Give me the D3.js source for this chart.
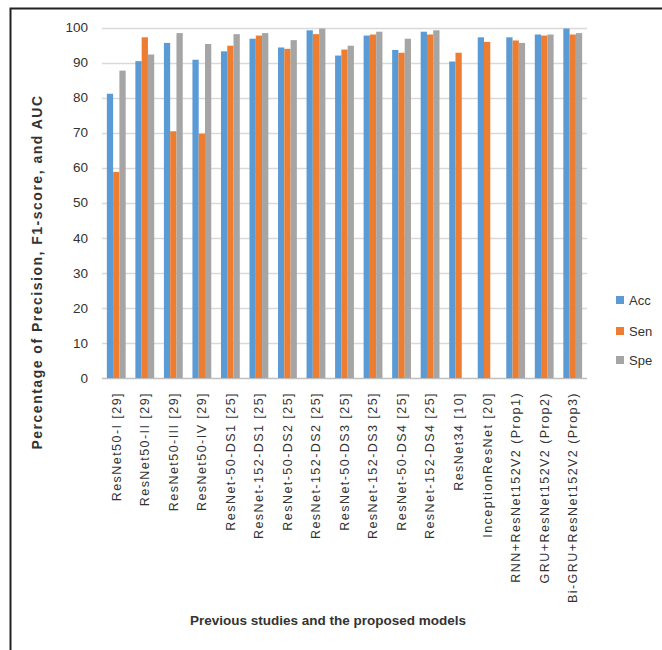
<!DOCTYPE html>
<html><head><meta charset="utf-8">
<script src="https://cdn.jsdelivr.net/npm/d3@7"></script>
<style>body{margin:0;background:#fff}svg{display:block}</style>
</head><body>
<script>
const categories = ["ResNet50-I [29]","ResNet50-II [29]","ResNet50-III [29]","ResNet50-IV [29]","ResNet-50-DS1 [25]","ResNet-152-DS1 [25]","ResNet-50-DS2 [25]","ResNet-152-DS2 [25]","ResNet-50-DS3 [25]","ResNet-152-DS3 [25]","ResNet-50-DS4 [25]","ResNet-152-DS4 [25]","ResNet34 [10]","InceptionResNet [20]","RNN+ResNet152V2 (Prop1)","GRU+ResNet152V2 (Prop2)","Bi-GRU+ResNet152V2 (Prop3)"];
const seriesNames = ["Acc","Sen","Spe"];
const acc = [81.1,90.4,95.6,90.8,93.2,96.8,94.3,99.2,92.0,97.7,93.6,98.8,90.3,97.2,97.2,98.0,99.7];
const sen = [58.8,97.2,70.4,69.7,94.8,97.7,93.9,98.1,93.7,98.0,92.8,98.0,92.8,95.9,96.3,97.7,98.0];
const spe = [87.7,92.3,98.4,95.3,98.1,98.4,96.4,99.7,94.8,98.8,96.8,99.2,null,null,95.6,98.0,98.4];
const yTicks = [0,10,20,30,40,50,60,70,80,90,100];
const colors = ["#5B9BD5","#ED7D31","#A5A5A5"];
const yTitle = "Percentage of Precision, F1-score, and AUC";
const xTitle = "Previous studies and the proposed models";

(function(){
const W = 662, H = 650;
const svg = d3.select("body").append("svg").attr("width", W).attr("height", H);
const font = "'Liberation Sans', Arial, sans-serif";
const textColor = "#333333";

const pLeft = 102, pRight = 587, pTop = 27.5, pBottom = 378;
const x0 = d3.scaleBand().domain(categories).range([pLeft, pRight]).paddingInner(0.34).paddingOuter(0.17);
const x1 = d3.scaleBand().domain(seriesNames).range([0, x0.bandwidth()]);
const y = d3.scaleLinear().domain([0, 100]).range([pBottom, pTop]);

// gridlines
svg.append("g").selectAll("line").data(yTicks).join("line")
  .attr("x1", pLeft).attr("x2", pRight)
  .attr("y1", d => Math.round(y(d)) + 0.5).attr("y2", d => Math.round(y(d)) + 0.5)
  .attr("stroke", d => d === 0 ? "#bfbfbf" : "#d9d9d9").attr("stroke-width", 1.5);

// y tick labels
svg.append("g").selectAll("text").data(yTicks).join("text")
  .attr("x", 88).attr("y", d => y(d)).attr("dy", "0.35em")
  .attr("text-anchor", "end").attr("font-family", font).attr("font-size", 13.5)
  .attr("fill", textColor).text(d => d);

// bars
const data = [acc, sen, spe];
const g = svg.append("g");
categories.forEach((c, i) => {
  seriesNames.forEach((s, j) => {
    const v = data[j][i];
    if (v == null) return;
    g.append("rect")
      .attr("x", x0(c) + x1(s)).attr("width", x1.bandwidth())
      .attr("y", y(v)).attr("height", y(0) - y(v))
      .attr("fill", colors[j]);
  });
});

// x labels
svg.append("g").selectAll("text").data(categories).join("text")
  .attr("transform", d => `translate(${x0(d) + x0.bandwidth()/2},392) rotate(-90)`)
  .attr("dy", "0.35em").attr("text-anchor", "end")
  .attr("font-family", font).attr("font-size", 12.5).attr("letter-spacing", 1.45)
  .attr("fill", textColor).text(d => d);

// axis titles
svg.append("text")
  .attr("transform", "translate(41.5,272) rotate(-90)")
  .attr("text-anchor", "middle").attr("font-family", font).attr("font-size", 14)
  .attr("letter-spacing", 1.5)
  .attr("font-weight", "bold").attr("fill", textColor).text(yTitle);
svg.append("text")
  .attr("x", 328).attr("y", 625).attr("text-anchor", "middle")
  .attr("font-family", font).attr("font-size", 13.5)
  .attr("font-weight", "bold").attr("fill", textColor).text(xTitle);

// legend
const legY = [300, 331, 360];
const leg = svg.append("g");
seriesNames.forEach((s, j) => {
  leg.append("rect").attr("x", 616).attr("y", legY[j] - 4).attr("width", 8).attr("height", 8).attr("fill", colors[j]);
  leg.append("text").attr("x", 629).attr("y", legY[j]).attr("dy", "0.35em")
    .attr("font-family", font).attr("font-size", 13).attr("fill", textColor).text(s);
});

// border
svg.append("path").attr("d", `M10.5,${H} V8.5 H${W}`).attr("fill", "none")
  .attr("stroke", "#222").attr("stroke-width", 2);
})();
</script>
</body></html>
